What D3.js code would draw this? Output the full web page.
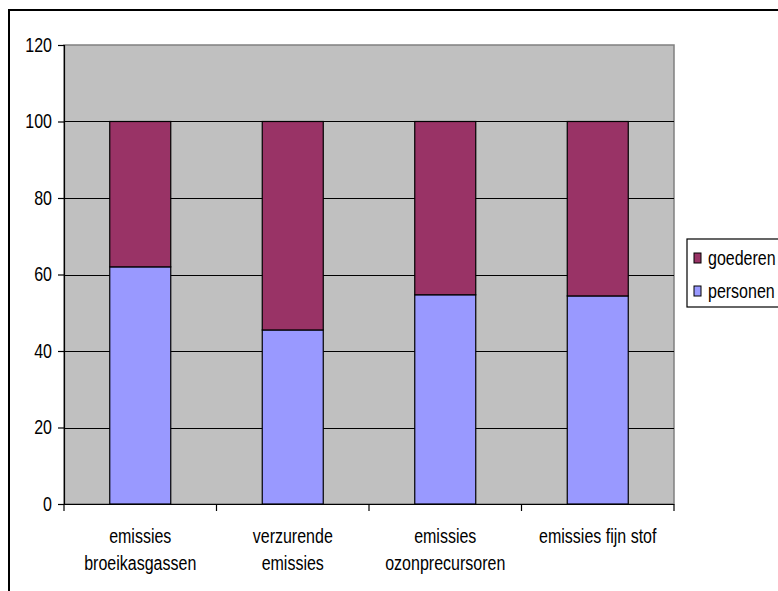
<!DOCTYPE html>
<html>
<head>
<script src="https://cdnjs.cloudflare.com/ajax/libs/d3/7.8.5/d3.min.js"></script>
<style>
  body { margin: 0; background: #fff; }
  text { font-family: "Liberation Sans", Arial, sans-serif; font-size: 20px; fill: #000; }
</style>
</head>
<body>
<div id="vis"></div>
<script type="text/javascript">

var categories = [["emissies", "broeikasgassen"], ["verzurende", "emissies"], ["emissies", "ozonprecursoren"], ["emissies fijn stof"]];
var personen = [62, 45.5, 54.7, 54.4];
var goederen = [38, 54.5, 45.3, 45.6];
var yTicks = [0, 20, 40, 60, 80, 100, 120];
var seriesNames = ["goederen", "personen"];
var seriesColors = {goederen: "#993366", personen: "#9999FF"};

var w = 778, h = 591;
var plot = {x0: 64, x1: 674, y0: 45, y1: 504};
var sx = 0.8; // horizontal squeeze, the original font is narrow

const svg = d3.select("#vis").append("svg")
    .attr("width", w).attr("height", h)
    .attr("viewBox", [0, 0, w, h]);

// chart area border (runs off right and bottom)
svg.append("rect")
    .attr("x", 9).attr("y", 10)
    .attr("width", 820).attr("height", 640)
    .attr("fill", "#fff").attr("stroke", "#000").attr("stroke-width", 2);

var xScale = d3.scaleBand().domain(d3.range(categories.length))
    .range([plot.x0, plot.x1]).paddingInner(0.6).paddingOuter(0.3);
var yScale = d3.scaleLinear().domain([0, 120]).range([plot.y1, plot.y0]);

// plot background
svg.append("rect")
    .attr("x", plot.x0).attr("y", plot.y0)
    .attr("width", plot.x1 - plot.x0).attr("height", plot.y1 - plot.y0)
    .attr("fill", "#C0C0C0").attr("stroke", "#808080").attr("stroke-width", 1.5);

// gridlines
svg.append("g").selectAll("line")
    .data(yTicks.filter(d => d > 0 && d < 120))
    .join("line")
    .attr("x1", plot.x0).attr("x2", plot.x1)
    .attr("y1", d => Math.round(yScale(d)) + 0.5).attr("y2", d => Math.round(yScale(d)) + 0.5)
    .attr("stroke", "#000").attr("stroke-width", 1);

// stacked bars
var stackData = categories.map((c, i) => ({i: i, personen: personen[i], goederen: goederen[i]}));
var stack = d3.stack().keys(["personen", "goederen"])(stackData);
svg.append("g").selectAll("g")
    .data(stack)
    .join("g")
    .attr("fill", d => seriesColors[d.key])
    .selectAll("rect")
    .data(d => d)
    .join("rect")
    .attr("x", d => xScale(d.data.i))
    .attr("width", xScale.bandwidth())
    .attr("y", d => yScale(d[1]))
    .attr("height", d => yScale(d[0]) - yScale(d[1]))
    .attr("stroke", "#000").attr("stroke-width", 1.2);

// y axis
var yAxis = d3.axisLeft(yScale).tickValues(yTicks).tickSize(6);
var yg = svg.append("g").attr("transform", `translate(${plot.x0},0)`).call(yAxis);
yg.select(".domain").attr("stroke", "#000").attr("stroke-width", 1.2);
yg.selectAll(".tick line").attr("stroke", "#000").attr("stroke-width", 1.2);
yg.selectAll("text")
    .attr("font-size", 20).attr("font-family", null).attr("fill", "#000")
    .attr("x", -12 / sx)
    .attr("transform", `scale(${sx},1)`);

// x axis
var xLine = d3.scaleLinear().domain([0, categories.length]).range([plot.x0, plot.x1]);
var xg = svg.append("g");
xg.append("line")
    .attr("x1", plot.x0).attr("x2", plot.x1)
    .attr("y1", plot.y1 + 0.5).attr("y2", plot.y1 + 0.5)
    .attr("stroke", "#000").attr("stroke-width", 1.2);
xg.selectAll("line.tick")
    .data(d3.range(categories.length + 1))
    .join("line")
    .attr("class", "tick")
    .attr("x1", d => xLine(d)).attr("x2", d => xLine(d))
    .attr("y1", plot.y1).attr("y2", plot.y1 + 7)
    .attr("stroke", "#000").attr("stroke-width", 1.2);

var labels = xg.selectAll("g.lab")
    .data(categories)
    .join("g")
    .attr("class", "lab")
    .attr("transform", (d, i) => `translate(${xScale(i) + xScale.bandwidth() / 2},543) scale(${sx},1)`)
    .append("text")
    .attr("text-anchor", "middle");
labels.selectAll("tspan")
    .data(d => d)
    .join("tspan")
    .attr("x", 0)
    .attr("y", (d, i) => i * 27)
    .text(d => d);

// legend
var lg = svg.append("g");
lg.append("rect")
    .attr("x", 687).attr("y", 239)
    .attr("width", 120).attr("height", 68)
    .attr("fill", "#fff").attr("stroke", "#000").attr("stroke-width", 1.2);
var items = lg.selectAll("g.item")
    .data(seriesNames)
    .join("g")
    .attr("class", "item")
    .attr("transform", (d, i) => `translate(694,${258 + i * 33})`);
items.append("rect")
    .attr("x", 0).attr("y", -5).attr("width", 7).attr("height", 10)
    .attr("fill", d => seriesColors[d]).attr("stroke", "#000").attr("stroke-width", 1);
items.append("text")
    .attr("transform", `translate(14,0) scale(${sx},1)`)
    .attr("dy", "0.35em")
    .text(d => d);

</script>
</body>
</html>
